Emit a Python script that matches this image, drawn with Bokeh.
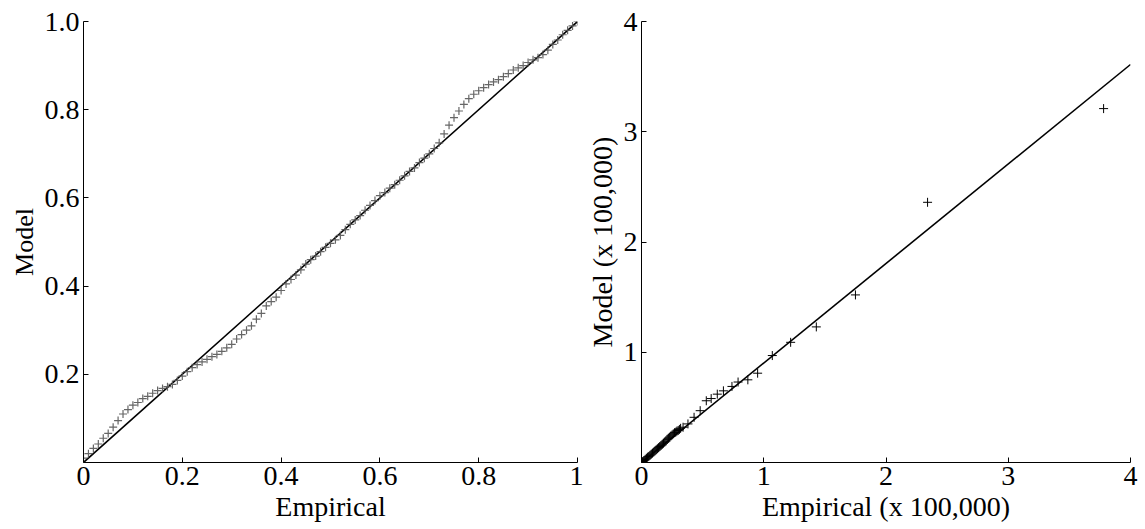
from bokeh.plotting import figure
from bokeh.layouts import row
from bokeh.models import FixedTicker
from bokeh.embed import file_html
from bokeh.resources import INLINE

# ---------------- data ----------------
# Left panel: P-P plot (Empirical vs Model probabilities)
pp_empirical = [0.00, 0.01, 0.02, 0.03, 0.04, 0.05, 0.06, 0.07, 0.08, 0.09,
                0.10, 0.11, 0.12, 0.13, 0.14, 0.15, 0.16, 0.17, 0.18, 0.19,
                0.20, 0.21, 0.22, 0.23, 0.24, 0.25, 0.26, 0.27, 0.28, 0.29,
                0.30, 0.31, 0.32, 0.33, 0.34, 0.35, 0.36, 0.37, 0.38, 0.39,
                0.40, 0.41, 0.42, 0.43, 0.44, 0.45, 0.46, 0.47, 0.48, 0.49,
                0.50, 0.51, 0.52, 0.53, 0.54, 0.55, 0.56, 0.57, 0.58, 0.59,
                0.60, 0.61, 0.62, 0.63, 0.64, 0.65, 0.66, 0.67, 0.68, 0.69,
                0.70, 0.71, 0.72, 0.73, 0.74, 0.75, 0.76, 0.77, 0.78, 0.79,
                0.80, 0.81, 0.82, 0.83, 0.84, 0.85, 0.86, 0.87, 0.88, 0.89,
                0.90, 0.91, 0.92, 0.93, 0.94, 0.95, 0.96, 0.97, 0.98, 0.99, 1.00]
pp_model = [0.010, 0.020, 0.032, 0.042, 0.055, 0.066, 0.080, 0.095, 0.110, 0.120,
            0.130, 0.136, 0.145, 0.150, 0.157, 0.163, 0.168, 0.172, 0.177, 0.186,
            0.196, 0.206, 0.215, 0.222, 0.228, 0.234, 0.240, 0.245, 0.252, 0.260,
            0.268, 0.280, 0.290, 0.300, 0.310, 0.325, 0.338, 0.355, 0.365, 0.375,
            0.390, 0.405, 0.415, 0.425, 0.437, 0.450, 0.460, 0.468, 0.478, 0.488,
            0.497, 0.505, 0.515, 0.528, 0.540, 0.550, 0.560, 0.572, 0.583, 0.594,
            0.605, 0.612, 0.622, 0.630, 0.640, 0.650, 0.660, 0.668, 0.680, 0.690,
            0.700, 0.712, 0.725, 0.745, 0.765, 0.782, 0.797, 0.812, 0.825, 0.835,
            0.843, 0.850, 0.857, 0.863, 0.868, 0.875, 0.882, 0.890, 0.895, 0.900,
            0.907, 0.913, 0.918, 0.925, 0.935, 0.948, 0.958, 0.970, 0.980, 0.990, 1.000]
pp_ref_x = [0.0, 1.0]
pp_ref_y = [0.0, 1.0]

# Right panel: Q-Q plot (x 100,000)
qq_empirical = [3.78, 2.34, 1.75, 1.43, 1.22, 1.07, 0.95, 0.87, 0.79, 0.74,
                0.67, 0.62, 0.57, 0.53, 0.48, 0.43, 0.38, 0.34, 0.32, 0.31,
                0.30, 0.29, 0.28, 0.27, 0.26, 0.25, 0.24, 0.23, 0.22, 0.21,
                0.20, 0.19, 0.18, 0.17, 0.16, 0.15, 0.14, 0.13, 0.12, 0.11,
                0.10, 0.09, 0.08, 0.07, 0.06, 0.05, 0.04, 0.03, 0.02, 0.01, 0.0]
qq_model = [3.21, 2.36, 1.52, 1.23, 1.09, 0.97, 0.81, 0.75, 0.73, 0.69,
            0.65, 0.62, 0.58, 0.56, 0.47, 0.41, 0.35, 0.32, 0.31, 0.30,
            0.29, 0.285, 0.275, 0.27, 0.26, 0.25, 0.24, 0.23, 0.22, 0.21,
            0.195, 0.185, 0.175, 0.165, 0.155, 0.145, 0.135, 0.125, 0.115, 0.105,
            0.095, 0.085, 0.075, 0.065, 0.055, 0.048, 0.038, 0.028, 0.018, 0.009, 0.0]
qq_ref_x = [0.0, 4.0]
qq_ref_y = [0.0, 3.61]

left_xticks = [0, 0.2, 0.4, 0.6, 0.8, 1.0]
left_xlabels = ["0", "0.2", "0.4", "0.6", "0.8", "1"]
left_yticks = [0.2, 0.4, 0.6, 0.8, 1.0]
left_ylabels = ["0.2", "0.4", "0.6", "0.8", "1.0"]
right_xticks = [0, 1, 2, 3, 4]
right_yticks = [1, 2, 3, 4]

FONT = "Liberation Serif"


def style(p, xticks, yticks, xlabels=None, ylabels=None, tick_size="23px",
          xlabel_size="24px", ylabel_size="24px"):
    p.grid.visible = False
    p.outline_line_color = None
    p.background_fill_color = "white"
    p.border_fill_color = "white"
    for ax in (p.xaxis[0], p.yaxis[0]):
        ax.axis_line_color = "black"
        ax.axis_line_width = 1
        ax.major_tick_in = 5
        ax.major_tick_out = 0
        ax.major_tick_line_color = "black"
        ax.minor_tick_line_color = None
        ax.major_label_text_font = FONT
        ax.major_label_text_font_size = tick_size
        ax.major_label_text_color = "black"
        ax.axis_label_text_font = FONT
        ax.axis_label_text_font_style = "normal"
        ax.axis_label_text_color = "black"
        ax.major_label_standoff = 4
        ax.axis_label_standoff = 3
    p.xaxis[0].axis_label_text_font_size = xlabel_size
    p.yaxis[0].axis_label_text_font_size = ylabel_size
    p.xaxis[0].ticker = FixedTicker(ticks=xticks)
    p.yaxis[0].ticker = FixedTicker(ticks=yticks)
    if xlabels:
        p.xaxis[0].major_label_overrides = {t: l for t, l in zip(xticks, xlabels)}
    if ylabels:
        p.yaxis[0].major_label_overrides = {t: l for t, l in zip(yticks, ylabels)}


# ---------------- left panel ----------------
p1 = figure(width=583, height=529, x_range=(0, 1), y_range=(0, 1),
            output_backend="svg", toolbar_location=None,
            min_border_left=83, min_border_right=6, min_border_top=18, min_border_bottom=67,
            x_axis_label="Empirical", y_axis_label="Model")
style(p1, left_xticks, left_yticks, left_xlabels, left_ylabels, "28px", "28px", "26px")
p1.line(pp_ref_x, pp_ref_y, line_color="black", line_width=1.6)
p1.scatter(pp_empirical, pp_model, marker="cross", size=8, line_color="#555555",
           line_width=1.2, line_alpha=0.9)

# ---------------- right panel ----------------
p2 = figure(width=562, height=529, x_range=(0, 4), y_range=(0, 4),
            output_backend="svg", toolbar_location=None,
            min_border_left=58, min_border_right=15, min_border_top=21, min_border_bottom=67,
            x_axis_label="Empirical (x 100,000)", y_axis_label="Model (x 100,000)")
style(p2, right_xticks, right_yticks, None, None, "28px", "28px", "28px")
p2.line(qq_ref_x, qq_ref_y, line_color="black", line_width=1.6)
p2.scatter(qq_empirical, qq_model, marker="cross", size=9, line_color="black",
           line_width=1)

layout = row(p1, p2)
open("out.html", "w").write(file_html(layout, INLINE))
